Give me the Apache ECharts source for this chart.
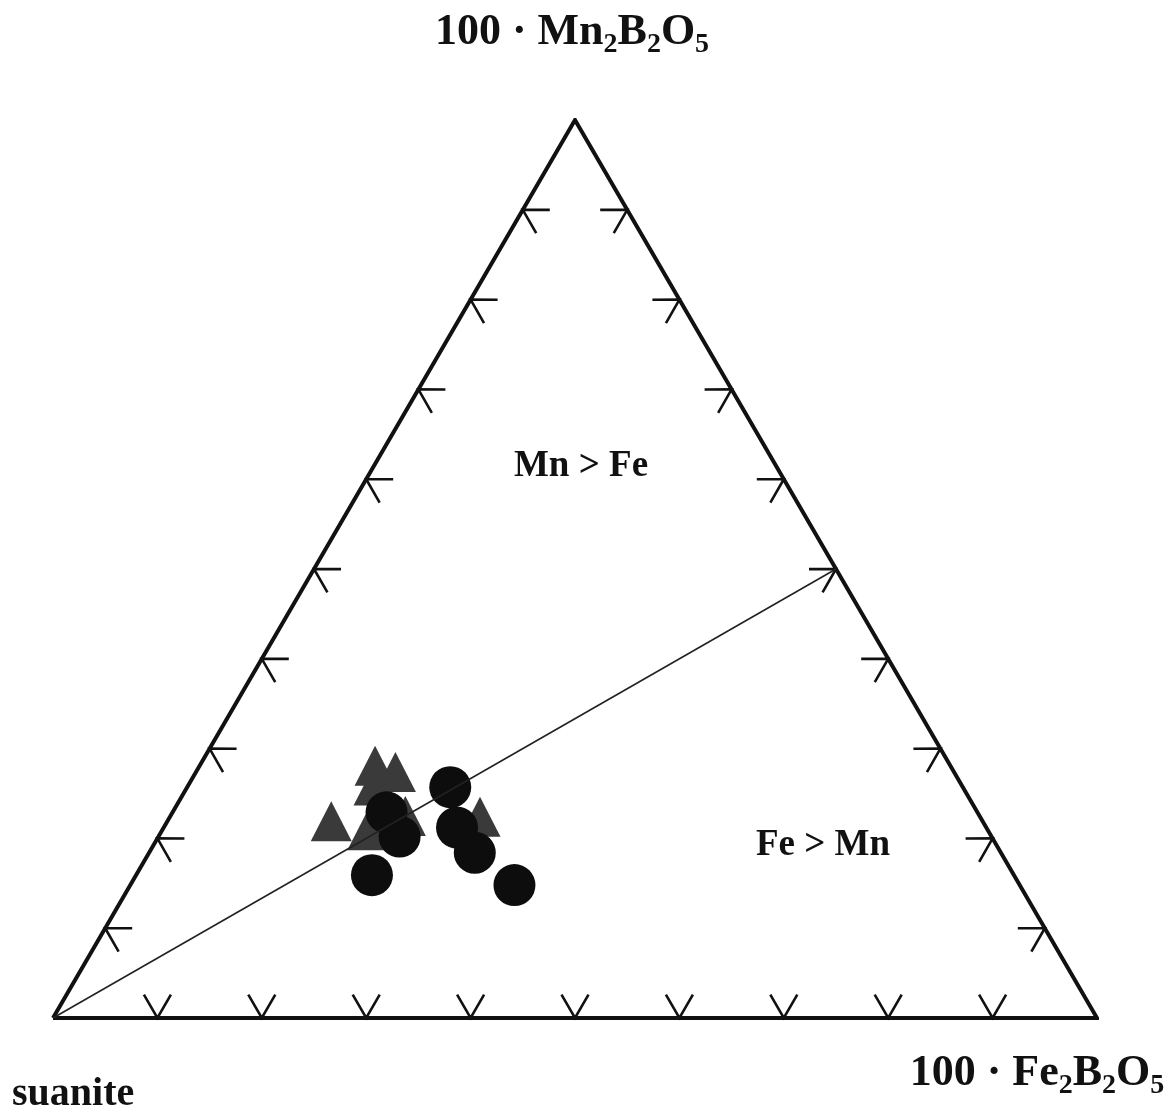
<!DOCTYPE html>
<html>
<head>
<meta charset="utf-8">
<script src="https://cdn.jsdelivr.net/npm/echarts@6/dist/echarts.min.js"></script>
<style>
html,body{margin:0;padding:0;background:#fff;}
#chart{width:1171px;height:1114px;}
</style>
</head>
<body>
<div id="chart"></div>
<script>
// Ternary data (percent): Mn2B2O5 and Fe2B2O5 components; remainder = suanite
const circleMn = [25.7, 22.9, 20.2, 21.2, 18.4, 15.9, 14.8];
const circleFe = [25.2, 20.5, 23.1, 28.1, 31.2, 22.6, 36.8];
const triangleMn = [28.1, 25.9, 27.4, 21.9, 22.4, 22.5, 20.9];
const triangleFe = [16.8, 17.8, 19.1, 15.7, 29.7, 22.5, 19.7];
// Mn = Fe reference line: from suanite apex to the midpoint of the Mn-Fe edge
const refLineMn = [0, 50];
const refLineFe = [0, 50];
// tick fractions along each edge
const tickFractions = [0.1, 0.2, 0.3, 0.4, 0.5, 0.6, 0.7, 0.8, 0.9];
// vertices in ternary (Mn, Fe): suanite, Fe2B2O5, Mn2B2O5
const vertexMn = [0, 0, 100];
const vertexFe = [0, 100, 0];

function toXY(mn, fe) { return [fe + mn / 2, mn]; }

const vertices = vertexMn.map((m, i) => toXY(m, vertexFe[i]));
const frameData = [vertices[0], vertices[1], vertices[2], vertices[0]];
const edges = [[0, 1], [0, 2], [1, 2]];
const tickData = [];
edges.forEach((e, ei) => tickFractions.forEach(t => tickData.push([ei, t])));

const circles = circleMn.map((m, i) => toXY(m, circleFe[i]));
const triangles = triangleMn.map((m, i) => toXY(m, triangleFe[i]));
const refLine = refLineMn.map((m, i) => toXY(m, refLineFe[i]));

const chart = echarts.init(document.getElementById('chart'));
const serif = "'Liberation Serif', 'Times New Roman', serif";

const bigRich = {
  b: { fontFamily: serif, fontWeight: 'bold', fontSize: 44, lineHeight: 52, verticalAlign: 'middle', fill: '#111' },
  s: { fontFamily: serif, fontWeight: 'bold', fontSize: 28, lineHeight: 30, verticalAlign: 'bottom', fill: '#111' }
};

chart.setOption({
  animation: false,
  backgroundColor: '#fff',
  grid: { left: 53, right: 74, top: 120, bottom: 96 },
  xAxis: { type: 'value', min: 0, max: 100, show: false },
  yAxis: { type: 'value', min: 0, max: 100, show: false },
  series: [
    {
      type: 'line', data: frameData, symbol: 'none', z: 1, silent: true,
      lineStyle: { color: '#111', width: 4, join: 'miter' }
    },
    {
      type: 'custom', data: tickData, z: 1, silent: true,
      renderItem: function (params, api) {
        const ei = api.value(0), t = api.value(1);
        const a = api.coord(vertices[edges[ei][0]]);
        const b = api.coord(vertices[edges[ei][1]]);
        const c = api.coord([50, 100 / 3]);
        const p = [a[0] + t * (b[0] - a[0]), a[1] + t * (b[1] - a[1])];
        let dx = b[0] - a[0], dy = b[1] - a[1];
        const len = Math.hypot(dx, dy);
        let nx = -dy / len, ny = dx / len;
        if ((c[0] - p[0]) * nx + (c[1] - p[1]) * ny < 0) { nx = -nx; ny = -ny; }
        const L = 27, ang = Math.PI / 6;
        const rot = (x, y, th) => [x * Math.cos(th) - y * Math.sin(th), x * Math.sin(th) + y * Math.cos(th)];
        const r1 = rot(nx, ny, ang), r2 = rot(nx, ny, -ang);
        return {
          type: 'polyline',
          shape: { points: [[p[0] + r1[0] * L, p[1] + r1[1] * L], p, [p[0] + r2[0] * L, p[1] + r2[1] * L]] },
          style: { stroke: '#111', lineWidth: 2.6, fill: null }
        };
      }
    },
    {
      type: 'scatter', data: triangles, symbol: 'triangle', symbolSize: [41, 40], z: 2,
      itemStyle: { color: '#3a3a3a', opacity: 1 }
    },
    {
      type: 'scatter', data: circles, symbol: 'circle', symbolSize: 42, z: 3,
      itemStyle: { color: '#0d0d0d', opacity: 1 }
    },
    {
      type: 'line', data: refLine, symbol: 'none', z: 4, silent: true,
      lineStyle: { color: '#222', width: 1.6 }
    }
  ],
  graphic: [
    {
      type: 'text', x: 572, y: 33, z: 10,
      style: { text: '{b|100 · Mn}{s|2}{b|B}{s|2}{b|O}{s|5}', rich: bigRich, align: 'center', verticalAlign: 'middle' }
    },
    {
      type: 'text', x: 1037, y: 1074, z: 10,
      style: { text: '{b|100 · Fe}{s|2}{b|B}{s|2}{b|O}{s|5}', rich: bigRich, align: 'center', verticalAlign: 'middle' }
    },
    {
      type: 'text', x: 12, y: 1075, z: 10,
      style: { text: 'suanite', font: 'bold 40px ' + serif, fill: '#111', align: 'left', verticalAlign: 'top' }
    },
    {
      type: 'text', x: 581, y: 448, z: 10,
      style: { text: 'Mn > Fe', font: 'bold 37px ' + serif, fill: '#111', align: 'center', verticalAlign: 'top' }
    },
    {
      type: 'text', x: 823, y: 827, z: 10,
      style: { text: 'Fe > Mn', font: 'bold 37px ' + serif, fill: '#111', align: 'center', verticalAlign: 'top' }
    }
  ]
});
</script>
</body>
</html>
